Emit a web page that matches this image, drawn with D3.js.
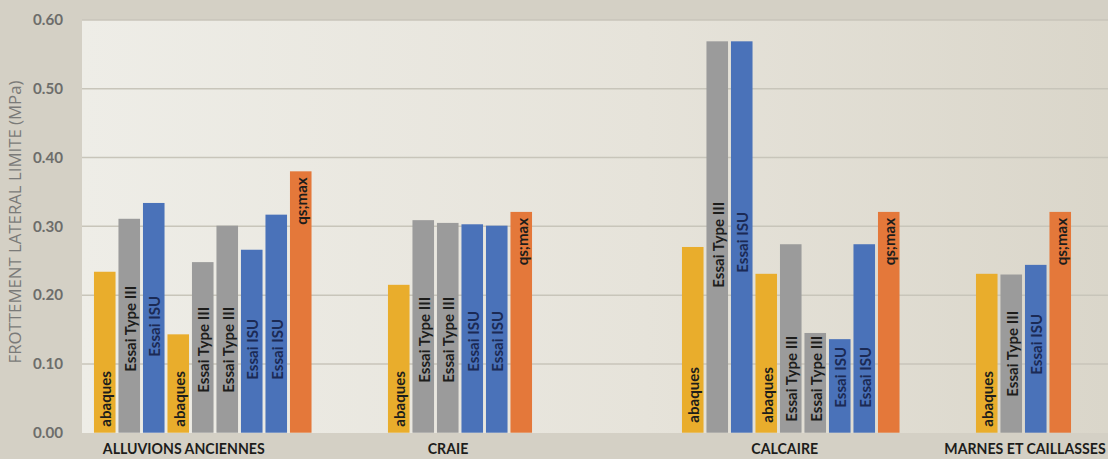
<!DOCTYPE html>
<html>
<head>
<meta charset="utf-8">
<script src="https://cdn.jsdelivr.net/npm/d3@7"></script>
<style>
  html, body { margin: 0; padding: 0; background: #d4d0c5; }
  svg { display: block; }
  text { font-family: Lato, "Open Sans", sans-serif; }
</style>
</head>
<body>
<svg id="chart" width="1108" height="459"></svg>
<script>
// Soil groups along the x axis
const groups = ["ALLUVIONS ANCIENNES", "CRAIE", "CALCAIRE", "MARNES ET CAILLASSES"];

// Test type of each bar, per group
const alluvionsTests = ["abaques", "Essai Type III", "Essai ISU", "abaques", "Essai Type III", "Essai Type III", "Essai ISU", "Essai ISU", "qs;max"];
const craieTests     = ["abaques", "Essai Type III", "Essai Type III", "Essai ISU", "Essai ISU", "qs;max"];
const calcaireTests  = ["abaques", "Essai Type III", "Essai ISU", "abaques", "Essai Type III", "Essai Type III", "Essai ISU", "Essai ISU", "qs;max"];
const marnesTests    = ["abaques", "Essai Type III", "Essai ISU", "qs;max"];

// Limit lateral friction (MPa), per group
const alluvionsValues = [0.234, 0.311, 0.334, 0.143, 0.248, 0.301, 0.266, 0.317, 0.380];
const craieValues     = [0.215, 0.309, 0.305, 0.303, 0.301, 0.321];
const calcaireValues  = [0.270, 0.569, 0.569, 0.231, 0.274, 0.145, 0.136, 0.274, 0.321];
const marnesValues    = [0.231, 0.230, 0.244, 0.321];

// Y axis ticks
const yTicks = [0, 0.1, 0.2, 0.3, 0.4, 0.5, 0.6];
const yTitle = "FROTTEMENT LATERAL LIMITE (MPa)";

// ---- layout ----
const W = 1108, H = 459;
const plot = { left: 82, right: 1108, top: 20, bottom: 433 };
const emptySlotsAfter = [3, 6, 3];          // blank slots between groups
const groupLabelShift = [-19, -12, -6, 1.5]; // px nudges of group captions
// lift (px above the axis) of each in-bar caption; null = hang from bar top
const labelLift = [
  [6, 61, 76, 6, 40, 40, 53, 53, null],
  [6, 50, 50, 61, 61, null],
  [10, 145, 160, 10, 11, 11, 25, 25, null],
  [6, 36, 58, null]
];

const fills = {
  "abaques": "#e9ad2c",
  "Essai Type III": "#9b9b9b",
  "Essai ISU": "#4a72b9",
  "qs;max": "#e4783a"
};
const textFill = {
  "abaques": "#1d1d1b",
  "Essai Type III": "#1d1d1b",
  "Essai ISU": "#1b2a55",
  "qs;max": "#1d1d1b"
};

const tests = [alluvionsTests, craieTests, calcaireTests, marnesTests];
const values = [alluvionsValues, craieValues, calcaireValues, marnesValues];

// flatten into slots
const bars = [];
const groupSlots = [];
let slot = 0;
groups.forEach((g, gi) => {
  const first = slot;
  values[gi].forEach((v, i) => {
    bars.push({ group: g, gi, i, slot, test: tests[gi][i], value: v, lift: labelLift[gi][i] });
    slot++;
  });
  groupSlots.push({ name: g, first, last: slot - 1, gi });
  if (gi < emptySlotsAfter.length) slot += emptySlotsAfter[gi];
});
const nSlots = slot;

const svg = d3.select("#chart");

// font size giving a sample string a wanted rendered length
function sizeFor(sample, targetLen, weight, family) {
  const t = svg.append("text")
    .style("font-size", "20px").style("font-weight", weight)
    .style("font-family", family).text(sample);
  const len = t.node().getComputedTextLength();
  t.remove();
  return 20 * targetLen / len;
}
const FAM = "Lato, 'Open Sans', sans-serif";
const captionSize = sizeFor("Essai Type III", 86, 700, FAM);
const groupSize = sizeFor("ALLUVIONS ANCIENNES", 162, 700, FAM);
const tickSize = sizeFor("0.60", 30, 700, FAM);
const titleSize = sizeFor(yTitle, 283, 400, "'Open Sans', sans-serif");

// background gradient of the plot area
const defs = svg.append("defs");
const grad = defs.append("linearGradient").attr("id", "plotBg")
  .attr("x1", "0%").attr("x2", "100%").attr("y1", "0%").attr("y2", "0%");
grad.append("stop").attr("offset", "0%").attr("stop-color", "#eeede7");
grad.append("stop").attr("offset", "55%").attr("stop-color", "#e6e3da");
grad.append("stop").attr("offset", "100%").attr("stop-color", "#dad6ca");

svg.insert("rect", ":first-child").attr("width", W).attr("height", H).attr("fill", "#d4d0c5");
svg.append("rect")
  .attr("x", plot.left).attr("y", plot.top)
  .attr("width", plot.right - plot.left).attr("height", plot.bottom - plot.top)
  .attr("fill", "url(#plotBg)");

const x = d3.scaleBand()
  .domain(d3.range(nSlots))
  .range([92.5, 92.5 + 24.5 * nSlots])
  .paddingInner(0.12)
  .paddingOuter(0.06);

const y = d3.scaleLinear().domain([0, 0.6]).range([432.7, 20]);

// gridlines
svg.append("g").selectAll("line").data(yTicks.filter(t => t > 0)).join("line")
  .attr("x1", plot.left).attr("x2", plot.right)
  .attr("y1", d => y(d)).attr("y2", d => y(d))
  .attr("stroke", "#c8c5ba").attr("stroke-width", 1.5);

// y axis labels
const yAxis = d3.axisLeft(y).tickValues(yTicks).tickFormat(d3.format(".2f")).tickSize(0).tickPadding(0);
const yg = svg.append("g").attr("transform", "translate(63,0)").call(yAxis);
yg.select(".domain").remove();
yg.selectAll("text")
  .attr("fill", "#6d6d6b")
  .style("font-size", tickSize + "px").style("font-weight", "700")
  .style("font-family", FAM);

// y title
svg.append("text")
  .attr("transform", `translate(20.5,${(plot.top + plot.bottom) / 2 - 4.5}) rotate(-90)`)
  .attr("text-anchor", "middle")
  .attr("fill", "#7a7a78")
  .style("font-family", "'Open Sans', sans-serif")
  .style("font-size", titleSize + "px")
  .text(yTitle);

// bars
svg.append("g").selectAll("rect").data(bars).join("rect")
  .attr("x", d => x(d.slot))
  .attr("width", x.bandwidth())
  .attr("y", d => y(d.value))
  .attr("height", d => y(0) - y(d.value))
  .attr("fill", d => fills[d.test]);

// in-bar captions, all reading bottom-to-top
svg.append("g").selectAll("text").data(bars).join("text")
  .attr("transform", d => {
    const cx = x(d.slot) + x.bandwidth() / 2 + 0.5;
    const yy = d.lift === null ? y(d.value) + 6 : y(0) - d.lift;
    return `translate(${cx},${yy}) rotate(-90)`;
  })
  .attr("text-anchor", d => d.lift === null ? "end" : "start")
  .attr("dominant-baseline", "central")
  .attr("fill", d => textFill[d.test])
  .style("font-size", captionSize + "px").style("font-weight", "700")
  .text(d => d.test);

// group captions
svg.append("g").selectAll("text").data(groupSlots).join("text")
  .attr("x", d => (x(d.first) + x(d.last) + x.bandwidth()) / 2 + groupLabelShift[d.gi])
  .attr("y", 454)
  .attr("text-anchor", "middle")
  .attr("fill", "#1d1d1b")
  .style("font-size", groupSize + "px").style("font-weight", "700")
  .text(d => d.name);
</script>
</body>
</html>
